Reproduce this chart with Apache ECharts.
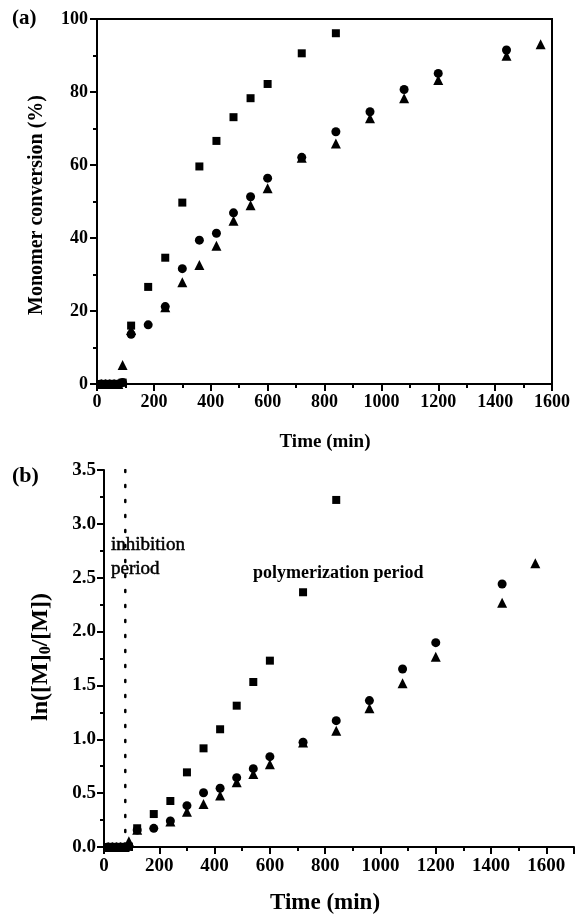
<!DOCTYPE html>
<html><head><meta charset="utf-8">
<script src="https://cdn.jsdelivr.net/npm/echarts@6/dist/echarts.min.js"></script>
<style>html,body{margin:0;padding:0;background:#fff}#c{width:575px;height:920px}</style>
</head><body><div id="c"></div>
<script>
// ---- data ----
const squareTimes = [15,30,45,60,75,90,120,180,240,300,360,420,480,540,600,720,840];
const squareConv  = [0,0,0,0,0,0.4,16.0,26.6,34.6,49.7,59.6,66.6,73.1,78.3,82.2,90.6,96.1];
const squareLn    = [0,0,0,0,0,0.004,0.174,0.306,0.427,0.693,0.916,1.093,1.312,1.532,1.730,2.365,3.222];

const circleTimes = [15,30,45,60,75,90,120,180,240,300,360,420,480,540,600,720,840,960,1080,1200,1440];
const circleConv  = [0,0,0,0,0,0.4,13.6,16.2,21.2,31.6,39.4,41.3,46.9,51.3,56.4,62.1,69.1,74.6,80.7,85.1,91.5];
const circleLn    = [0,0,0,0,0,0.004,0.158,0.173,0.241,0.384,0.504,0.545,0.644,0.727,0.839,0.972,1.173,1.359,1.653,1.897,2.442];

const triTimes = [15,30,45,60,75,90,120,240,300,360,420,480,540,600,720,840,960,1080,1200,1440,1560];
const triConv  = [0,0,0,0,0,5.2,14.8,21.0,27.9,32.6,37.9,44.7,49.0,53.6,62.0,65.9,72.8,78.3,83.3,89.9,93.1];
const triLn    = [0,0,0,0,0,0.053,0.160,0.237,0.328,0.399,0.477,0.600,0.678,0.768,0.970,1.080,1.288,1.520,1.767,2.268,2.634];

const inhibitionEnd = 77;          // dotted line position (min)
const inhibitionLineY = [0, 3.5];

const xTicksA = {min:0, max:1600, interval:200};
const yTicksA = {min:0, max:100, interval:20};
const xTicksB = {min:0, max:1700, interval:200};
const yTicksB = {min:0, max:3.5, interval:0.5};

// ---- chart ----
const FF = '"Liberation Serif","Times New Roman",serif';
const zip = (a,b) => a.map((v,i)=>[v,b[i]]);
const chart = echarts.init(document.getElementById('c'), null, {renderer:'canvas'});

function axis(base, grid, fs, margin, fmt, hideMax){
  return {
    type:'value', gridIndex:grid,
    min:base.min, max:base.max, interval:base.interval,
    axisLine:{show:true, onZero:false, lineStyle:{color:'#000', width:2}},
    axisTick:{show:true, inside:false, length:7, lineStyle:{color:'#000', width:2}},
    minorTick:{show:true, splitNumber:2, length:4, lineStyle:{color:'#000', width:2}},
    splitLine:{show:false}, minorSplitLine:{show:false},
    axisLabel:{color:'#000', fontFamily:FF, fontWeight:'bold', fontSize:fs, margin:margin,
      formatter:fmt, showMaxLabel: hideMax ? false : null}
  };
}
const sq = {symbol:'rect', symbolSize:8};
const ci = {symbol:'circle', symbolSize:9};
const tr = {symbol:'triangle', symbolSize:10};
function sc(style, grid, data){
  return Object.assign({type:'scatter', xAxisIndex:grid, yAxisIndex:grid, data:data,
    itemStyle:{color:'#000', opacity:1}, emphasis:{disabled:true}, silent:true, clip:false}, style);
}

chart.setOption({
  animation:false,
  backgroundColor:'#fff',
  grid:[
    {left:97, top:19, width:455, height:365, show:true, borderColor:'#000', borderWidth:2, backgroundColor:'transparent'},
    {left:104, top:470, width:470, height:377}
  ],
  xAxis:[
    axis(xTicksA, 0, 18, 9, v=>String(v), false),
    axis(xTicksB, 1, 19, 10, v=>String(v), true)
  ],
  yAxis:[
    axis(yTicksA, 0, 18, 9, v=>String(v), false),
    axis(yTicksB, 1, 19, 8, v=>v.toFixed(1), false)
  ],
  series:[
    sc(sq,0,zip(squareTimes,squareConv)),
    sc(ci,0,zip(circleTimes,circleConv)),
    sc(tr,0,zip(triTimes,triConv)),
    sc(sq,1,zip(squareTimes,squareLn)),
    sc(ci,1,zip(circleTimes,circleLn)),
    sc(tr,1,zip(triTimes,triLn)),
    {type:'line', xAxisIndex:1, yAxisIndex:1, symbol:'none', silent:true,
     data: inhibitionLineY.map(y=>[inhibitionEnd,y]),
     lineStyle:{color:'#000', width:2.5, type:[2,13], cap:'round', opacity:1}}
  ],
  graphic:[
    {type:'text', left:12, top:8, style:{text:'(a)', font:'bold 21px '+FF, fill:'#000'}},
    {type:'text', left:12, top:465, style:{text:'(b)', font:'bold 22px '+FF, fill:'#000'}},
    {type:'text', x:37, y:205, rotation:Math.PI/2,
      style:{text:'Monomer conversion (%)', font:'bold 20px '+FF, fill:'#000', align:'center', verticalAlign:'middle'}},
    {type:'text', x:325, y:442,
      style:{text:'Time (min)', font:'bold 19px '+FF, fill:'#000', align:'center', verticalAlign:'middle'}},
    {type:'text', x:41, y:657, rotation:Math.PI/2,
      style:{text:'ln([M]{s|0}/[M])', font:'bold 24px '+FF, fill:'#000', align:'center', verticalAlign:'middle',
        rich:{s:{font:'bold 16px '+FF, fill:'#000', padding:[10,0,0,0]}}}},
    {type:'text', x:325, y:903,
      style:{text:'Time (min)', font:'bold 23px '+FF, fill:'#000', align:'center', verticalAlign:'middle'}},
    {type:'text', x:111, y:545,
      style:{text:'inhibition', font:'19px '+FF, fill:'#000', stroke:'#000', lineWidth:0.5, align:'left', verticalAlign:'middle'}},
    {type:'text', x:111, y:569,
      style:{text:'period', font:'19px '+FF, fill:'#000', stroke:'#000', lineWidth:0.5, align:'left', verticalAlign:'middle'}},
    {type:'text', x:253, y:573,
      style:{text:'polymerization period', font:'bold 18px '+FF, fill:'#000', align:'left', verticalAlign:'middle'}}
  ]
});
</script></body></html>
